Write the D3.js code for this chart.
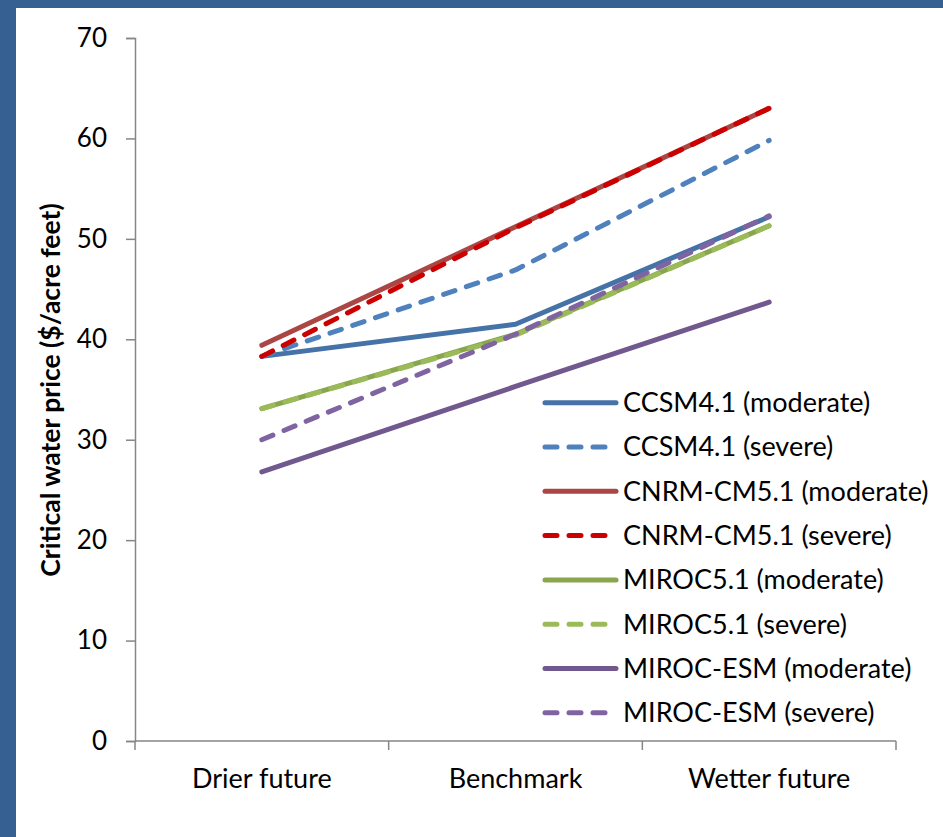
<!DOCTYPE html>
<html>
<head>
<meta charset="utf-8">
<script src="https://cdn.jsdelivr.net/npm/d3@7"></script>
<style>
  html, body { margin: 0; padding: 0; background: #fff; }
  svg { display: block; }
</style>
</head>
<body>
<script>
// values
const scenarios = ["Drier future", "Benchmark", "Wetter future"];
const seriesNames = [
    "CCSM4.1 (moderate)", "CCSM4.1 (severe)",
    "CNRM-CM5.1 (moderate)", "CNRM-CM5.1 (severe)",
    "MIROC5.1 (moderate)", "MIROC5.1 (severe)",
    "MIROC-ESM (moderate)", "MIROC-ESM (severe)"
];
const ccsmModerate = [38.3, 41.5, 52.2];
const ccsmSevere = [38.3, 46.9, 59.8];
const cnrmModerate = [39.4, 51.2, 63.0];
const cnrmSevere = [38.3, 51.1, 63.0];
const mirocModerate = [33.1, 40.5, 51.3];
const mirocSevere = [33.1, 40.4, 51.3];
const esmModerate = [26.8, 35.3, 43.7];
const esmSevere = [30.0, 40.5, 52.3];
const yTicks = [0, 10, 20, 30, 40, 50, 60, 70];

const seriesValues = [ccsmModerate, ccsmSevere, cnrmModerate, cnrmSevere,
    mirocModerate, mirocSevere, esmModerate, esmSevere];
const colors = ["#4572A7", "#4F81BD", "#AA4643", "#CC0000",
    "#89A54E", "#9BBB59", "#71588F", "#8064A2"];
const dashed = [false, true, false, true, false, true, false, true];

const width = 943, height = 837;
const font = "Lato, 'Open Sans', sans-serif";

const svg = d3.select("body").append("svg")
    .attr("width", width)
    .attr("height", height);

// dark blue frame on the left and top
svg.append("rect").attr("width", width).attr("height", height).attr("fill", "#366092");
svg.append("rect").attr("x", 16).attr("y", 8).attr("width", width - 16).attr("height", height - 8).attr("fill", "#fff");

const x = d3.scaleBand().domain(scenarios).range([135, 896]);
const y = d3.scaleLinear().domain([0, 70]).range([741, 38]);

// y axis
const yAxis = svg.append("g")
    .attr("transform", "translate(135,0)")
    .call(d3.axisLeft(y).tickValues(yTicks).tickSize(9).tickPadding(19));
yAxis.select(".domain").attr("stroke", "#868686").attr("stroke-width", 1.5);
yAxis.selectAll(".tick line").attr("stroke", "#868686").attr("stroke-width", 1.5);
yAxis.selectAll(".tick text")
    .attr("font-family", font).attr("font-size", 26).attr("fill", "#000");

// x axis, ticks on band edges pointing down
const xAxis = svg.append("g").attr("transform", "translate(0,741)");
xAxis.append("line")
    .attr("x1", x.range()[0]).attr("x2", x.range()[1])
    .attr("stroke", "#868686").attr("stroke-width", 1.5);
xAxis.selectAll(".edge")
    .data(scenarios.map(s => x(s) + x.bandwidth()).concat([x(scenarios[0])]))
    .join("line")
    .attr("x1", d => d).attr("x2", d => d)
    .attr("y1", 0).attr("y2", 9)
    .attr("stroke", "#868686").attr("stroke-width", 1.5);
xAxis.selectAll("text")
    .data(scenarios)
    .join("text")
    .attr("x", d => x(d) + x.bandwidth() / 2)
    .attr("y", 47)
    .attr("text-anchor", "middle")
    .attr("font-family", font).attr("font-size", 27)
    .text(d => d);

// y axis title
svg.append("text")
    .attr("transform", "translate(60,390) rotate(-90)")
    .attr("text-anchor", "middle")
    .attr("font-family", font).attr("font-size", 26.5).attr("font-weight", "bold")
    .text("Critical water price ($/acre feet)");

// lines
const line = d3.line()
    .x((d, i) => x(scenarios[i]) + x.bandwidth() / 2)
    .y(d => y(d));

svg.append("g").selectAll("path")
    .data(seriesValues)
    .join("path")
    .attr("d", line)
    .attr("fill", "none")
    .attr("stroke", (d, i) => colors[i])
    .attr("stroke-width", 5)
    .attr("stroke-linecap", "round")
    .attr("stroke-linejoin", "round")
    .attr("stroke-dasharray", (d, i) => dashed[i] ? "12,12" : null);

// legend
const legend = svg.append("g").selectAll("g")
    .data(seriesNames)
    .join("g")
    .attr("transform", (d, i) => `translate(545,${402.7 + i * 44.3})`);
legend.append("line")
    .attr("x1", 0).attr("x2", (d, i) => dashed[i] ? 66 : 71)
    .attr("stroke", (d, i) => colors[i])
    .attr("stroke-width", 5)
    .attr("stroke-linecap", "round")
    .attr("stroke-dasharray", (d, i) => dashed[i] ? "12,12" : null);
legend.append("text")
    .attr("x", 78)
    .attr("dy", "0.35em")
    .attr("font-family", font).attr("font-size", 27)
    .text(d => d);
</script>
</body>
</html>
